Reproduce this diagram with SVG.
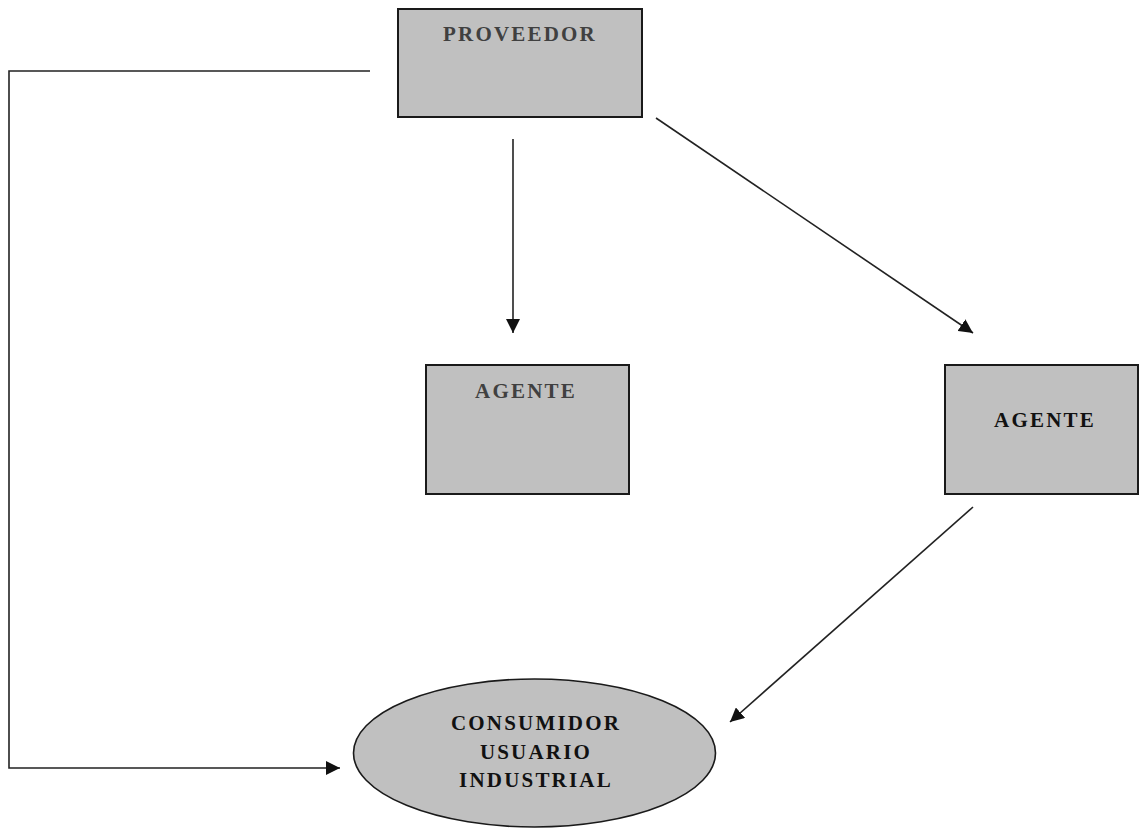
<svg xmlns="http://www.w3.org/2000/svg" width="1140" height="830" viewBox="0 0 1140 830">
<style>
.box{fill:#c0c0c0;stroke:#1a1a1a;stroke-width:2}
.lbl{font-family:"Liberation Serif","Times New Roman",serif;font-weight:bold;font-size:21px;letter-spacing:2.2px;text-anchor:middle}
.conn{fill:none;stroke:#222;stroke-width:1.6}
</style>
<defs>
<marker id="ah" viewBox="0 0 14 14" refX="14" refY="7" markerWidth="14" markerHeight="14" markerUnits="userSpaceOnUse" orient="auto">
<path d="M0,0 L14,7 L0,14 Z" fill="#111"/>
</marker>
</defs>
<rect width="1140" height="830" fill="#fff"/>
<g id="connectors">
<polyline class="conn" points="370,71 9,71 9,768 340,768" marker-end="url(#ah)"/>
<line class="conn" x1="513" y1="139" x2="513" y2="333" marker-end="url(#ah)"/>
<line class="conn" x1="656" y1="118" x2="973" y2="333" marker-end="url(#ah)"/>
<line class="conn" x1="973" y1="507" x2="730" y2="722" marker-end="url(#ah)"/>
</g>
<g id="proveedor">
<rect class="box" x="398" y="9" width="244" height="108"/>
<text class="lbl" x="520" y="41" fill="#404040">PROVEEDOR</text>
</g>
<g id="agente1">
<rect class="box" x="426" y="365" width="203" height="129"/>
<text class="lbl" x="526" y="398" fill="#404040">AGENTE</text>
</g>
<g id="agente2">
<rect class="box" x="945" y="365" width="193" height="129"/>
<text class="lbl" x="1045" y="427" fill="#111">AGENTE</text>
</g>
<g id="consumidor">
<ellipse cx="534.5" cy="753" rx="181" ry="74" fill="#c0c0c0" stroke="#1a1a1a" stroke-width="1.6"/>
<text class="lbl" x="536" y="730" fill="#111">CONSUMIDOR</text>
<text class="lbl" x="536" y="759" fill="#111">USUARIO</text>
<text class="lbl" x="536" y="787" fill="#111">INDUSTRIAL</text>
</g>
</svg>
